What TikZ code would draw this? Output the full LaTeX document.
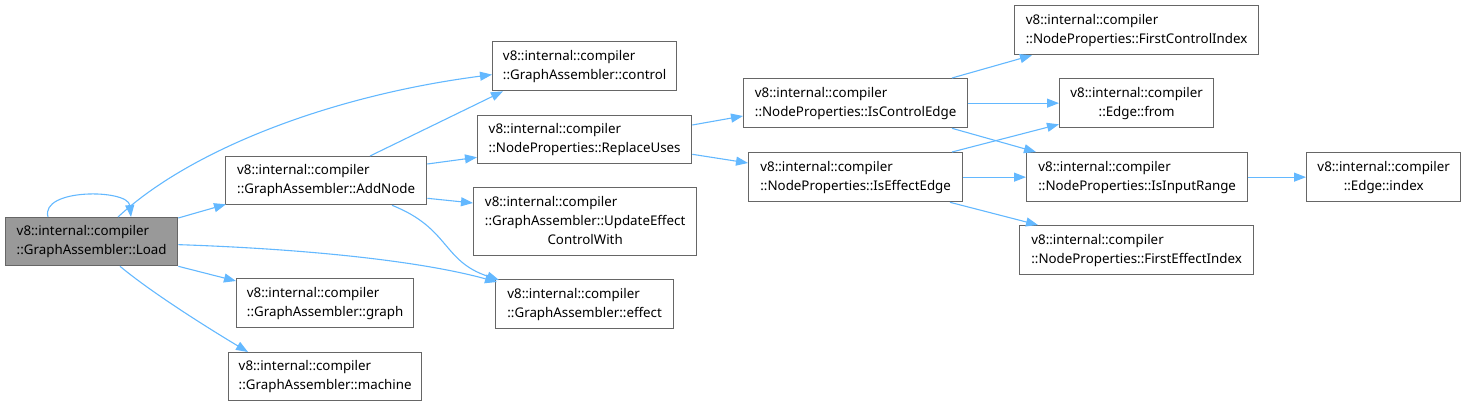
\documentclass[tikz,border=0pt]{standalone}
\usepackage{fontspec}
\setmainfont{Noto Sans}
\usetikzlibrary{arrows.meta,calc}
\definecolor{edgeblue}{HTML}{63B8FF}
\definecolor{boxline}{HTML}{666666}
\definecolor{boxfill}{HTML}{999999}
\tikzset{
  fnode/.style={draw=boxline, line width=1.3pt, fill=white, inner sep=0pt, anchor=north west,
    font=\fontsize{13.33}{19}\selectfont, align=left},
  cnode/.style={fnode, align=center},
  arr/.style={draw=edgeblue, line width=1.1pt, -{Triangle[length=12pt,width=9pt]}},
}
\begin{document}
\begin{tikzpicture}[x=1pt,y=-1pt]
\useasboundingbox (0,0) rectangle (1466,406);

\node[fnode, fill=boxfill, minimum width=172pt, minimum height=48pt] (load) at (5,217)
  {v8::internal::compiler\\::GraphAssembler::Load};
\node[fnode, minimum width=184pt, minimum height=49pt] (control) at (492,41)
  {v8::internal::compiler\\::GraphAssembler::control};
\node[fnode, minimum width=201pt, minimum height=48pt] (addnode) at (225,156)
  {v8::internal::compiler\\::GraphAssembler::AddNode};
\node[fnode, minimum width=214pt, minimum height=48pt] (replace) at (477,115)
  {v8::internal::compiler\\::NodeProperties::ReplaceUses};
\node[fnode, minimum width=223pt, minimum height=68pt] (update) at (473,187)
  {\begin{tabular}{@{}l@{}}v8::internal::compiler\\::GraphAssembler::UpdateEffect\\\multicolumn{1}{@{}c@{}}{ControlWith}\end{tabular}};
\node[fnode, minimum width=178pt, minimum height=49pt] (effect) at (495,279)
  {v8::internal::compiler\\::GraphAssembler::effect};
\node[fnode, minimum width=177pt, minimum height=49pt] (graph) at (236,278)
  {v8::internal::compiler\\::GraphAssembler::graph};
\node[fnode, minimum width=193pt, minimum height=48pt] (machine) at (228,352)
  {v8::internal::compiler\\::GraphAssembler::machine};
\node[fnode, minimum width=224pt, minimum height=49pt] (isctrl) at (743,78)
  {v8::internal::compiler\\::NodeProperties::IsControlEdge};
\node[fnode, minimum width=214pt, minimum height=49pt] (iseff) at (748,152)
  {v8::internal::compiler\\::NodeProperties::IsEffectEdge};
\node[fnode, minimum width=244pt, minimum height=49pt] (fci) at (1014,5)
  {v8::internal::compiler\\::NodeProperties::FirstControlIndex};
\node[cnode, minimum width=154pt, minimum height=49pt] (from) at (1059,78)
  {v8::internal::compiler\\::Edge::from};
\node[fnode, minimum width=221pt, minimum height=49pt] (inrange) at (1026,152)
  {v8::internal::compiler\\::NodeProperties::IsInputRange};
\node[fnode, minimum width=234pt, minimum height=49pt] (fei) at (1019,225)
  {v8::internal::compiler\\::NodeProperties::FirstEffectIndex};
\node[cnode, minimum width=154pt, minimum height=49pt] (index) at (1306,152)
  {v8::internal::compiler\\::Edge::index};

% edges from Load
\draw[arr] ($(load.north west)+(43,0)$) .. controls +(-8,-29) and +(-3,-28) .. ($(load.north west)+(126,0)$);
\draw[arr] ($(load.north west)+(113,0)$) .. controls +(72,-67) and +(-162,21) .. ($(control.west)+(0,8.5)$);
\draw[arr] ($(load.north east)+(0,1)$) -- ($(addnode.south west)+(1,-1)$);
\draw[arr] ($(load.east)+(0,3)$) .. controls +(120,4) and +(-80,-22) .. ($(effect.north west)+(2,3)$);
\draw[arr] (load.south east) -- ($(graph.north west)+(0,3)$);
\draw[arr] ($(load.south west)+(115,0)$) .. controls +(30,25) and +(-45,-27) .. ($(machine.north west)+(20,0)$);

% edges from AddNode
\draw[arr] ($(addnode.north west)+(145,0)$) -- ($(control.south west)+(11,0)$);
\draw[arr] ($(addnode.north east)+(0,8)$) -- ($(replace.south west)+(0,-7)$);
\draw[arr] ($(addnode.south east)+(0,-7)$) -- ($(update.north west)+(0,16)$);
\draw[arr] ($(addnode.south west)+(167,0)$) .. controls +(58,23) and +(-57,-19) .. ($(effect.north west)+(4,1)$);

% edges from ReplaceUses
\draw[arr] ($(replace.north east)+(0,10)$) -- ($(isctrl.north west)+(0,38)$);
\draw[arr] ($(replace.south east)+(0,-10)$) -- ($(iseff.north west)+(0,11)$);

% edges from IsControlEdge
\draw[arr] ($(isctrl.north west)+(209,0)$) -- ($(fci.south west)+(18,0)$);
\draw[arr] (isctrl.east) -- (from.west);
\draw[arr] ($(isctrl.south west)+(209,0)$) -- ($(inrange.north west)+(10,0)$);

% edges from IsEffectEdge
\draw[arr] ($(iseff.north west)+(204,0)$) -- ($(from.south west)+(0,-4)$);
\draw[arr] (iseff.east) -- (inrange.west);
\draw[arr] ($(iseff.south west)+(202,0)$) -- ($(fei.north west)+(19,0)$);

% edge from IsInputRange
\draw[arr] (inrange.east) -- (index.west);
\end{tikzpicture}
\end{document}
